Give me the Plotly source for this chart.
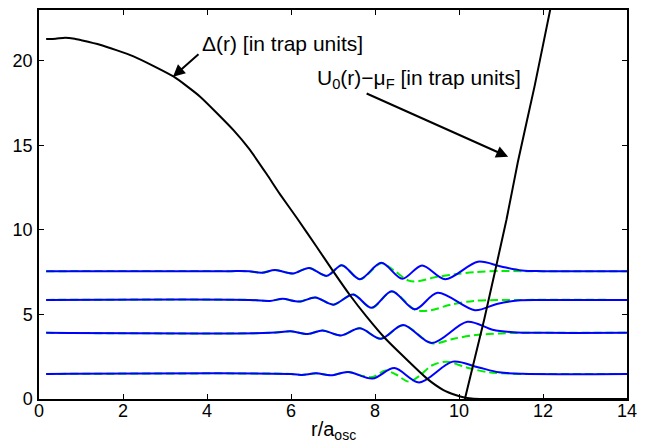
import plotly.graph_objects as go

# ---- data ----
delta_r = [0.17, 0.4, 0.62, 0.85, 1.0, 1.45, 2.25, 3.2, 3.83, 4.63, 5.0, 5.42, 5.74, 6.14, 6.61, 7.01,
           7.40, 7.80, 8.24, 8.60, 9.23, 9.63, 9.9, 10.1, 10.3, 10.6, 14.0]
delta_v = [21.28, 21.3, 21.36, 21.3, 21.22, 20.95, 20.26, 19.07, 17.89, 15.9, 14.8, 13.3, 12.1, 10.7, 9.0, 7.53,
           6.15, 4.87, 3.59, 2.70, 1.22, 0.53, 0.25, 0.1, 0.03, 0.0, 0.0]

u_r = [10.14, 10.6, 11.13, 11.4, 11.8, 12.17, 12.3]
u_v = [0.0, 4.7, 10.6, 14.0, 18.5, 23.0, 24.6]

blue1_r = [0.17, 4.5, 5.0, 5.3, 5.62, 6.05, 6.43, 6.85, 7.21, 7.64, 8.15, 8.65, 9.12, 9.67, 10.45, 11.0, 11.5, 12.0, 14.0]
blue1_v = [7.56, 7.56, 7.55, 7.46, 7.62, 7.42, 7.75, 7.28, 7.91, 7.08, 8.05, 7.11, 7.90, 7.08, 8.12, 7.83, 7.60, 7.56, 7.56]
green1_r = [0.17, 4.5, 5.0, 5.3, 5.62, 6.05, 6.43, 6.85, 7.21, 7.64, 8.15, 8.45, 8.8, 9.05, 9.4, 9.9, 10.4, 11.0, 11.5, 14.0]
green1_v = [7.56, 7.56, 7.55, 7.46, 7.62, 7.42, 7.75, 7.28, 7.91, 7.08, 8.03, 7.60, 7.00, 6.97, 7.18, 7.37, 7.50, 7.57, 7.56, 7.56]

blue2_r = [0.17, 5.0, 5.5, 5.8, 6.2, 6.58, 7.01, 7.48, 7.92, 8.40, 8.95, 9.49, 10.38, 10.9, 11.4, 12.0, 14.0]
blue2_v = [5.86, 5.86, 5.80, 5.92, 5.76, 6.00, 5.58, 6.18, 5.39, 6.37, 5.30, 6.28, 5.25, 5.62, 5.83, 5.86, 5.86]
green2_r = [0.17, 5.0, 5.5, 5.8, 6.2, 6.58, 7.01, 7.48, 7.92, 8.40, 8.95, 9.3, 9.8, 10.35, 10.9, 11.5, 14.0]
green2_v = [5.86, 5.86, 5.80, 5.92, 5.76, 6.00, 5.58, 6.18, 5.39, 6.35, 5.28, 5.23, 5.58, 5.80, 5.85, 5.86, 5.86]

blue3_r = [0.17, 5.5, 6.0, 6.4, 6.75, 7.19, 7.64, 8.14, 8.67, 9.35, 10.2, 10.8, 11.3, 12.0, 14.0]
blue3_v = [3.91, 3.91, 4.00, 3.84, 4.05, 3.76, 4.18, 3.56, 4.38, 3.31, 4.57, 4.10, 3.95, 3.91, 3.91]
green3_r = [0.17, 5.5, 6.0, 6.4, 6.75, 7.19, 7.64, 8.14, 8.67, 9.35, 9.9, 10.4, 11.0, 11.5, 14.0]
green3_v = [3.91, 3.91, 4.00, 3.84, 4.05, 3.76, 4.18, 3.56, 4.36, 3.30, 3.58, 3.78, 3.88, 3.91, 3.91]

blue4_r = [0.17, 6.0, 6.25, 6.6, 6.95, 7.36, 7.94, 8.46, 9.05, 9.85, 10.45, 10.95, 11.5, 14.0]
blue4_v = [1.48, 1.48, 1.42, 1.52, 1.40, 1.60, 1.21, 1.83, 0.98, 2.21, 1.88, 1.58, 1.49, 1.48]
green4_r = [0.17, 6.0, 6.25, 6.6, 6.95, 7.36, 7.68, 7.94, 8.25, 8.5, 8.8, 9.05, 9.35, 9.7, 10.2, 10.7, 11.2, 11.7, 14.0]
green4_v = [1.48, 1.48, 1.42, 1.52, 1.40, 1.60, 1.38, 1.30, 1.68, 1.45, 1.03, 1.35, 1.98, 2.20, 1.85, 1.58, 1.50, 1.48, 1.48]

x_ticks = [0, 2, 4, 6, 8, 10, 12, 14]
y_ticks = [0, 5, 10, 15, 20]

FONT = "Liberation Sans, Arial, sans-serif"
BLUE = "#0000ff"
GREEN = "#00ee00"

fig = go.Figure()

greens = [(green1_r, green1_v), (green2_r, green2_v), (green3_r, green3_v), (green4_r, green4_v)]
blues = [(blue1_r, blue1_v), (blue2_r, blue2_v), (blue3_r, blue3_v), (blue4_r, blue4_v)]

for r, v in greens:
    fig.add_trace(go.Scatter(x=r, y=v, mode="lines",
                             line=dict(color=GREEN, width=2, dash="8px,4px", shape="spline", smoothing=0.9),
                             showlegend=False, hoverinfo="skip"))
for r, v in blues:
    fig.add_trace(go.Scatter(x=r, y=v, mode="lines",
                             line=dict(color=BLUE, width=2, shape="spline", smoothing=0.9),
                             showlegend=False, hoverinfo="skip"))

fig.add_trace(go.Scatter(x=delta_r, y=delta_v, mode="lines",
                         line=dict(color="black", width=2, shape="spline", smoothing=0.5),
                         showlegend=False, hoverinfo="skip"))
fig.add_trace(go.Scatter(x=u_r, y=u_v, mode="lines",
                         line=dict(color="black", width=2, shape="spline", smoothing=0.4),
                         showlegend=False, hoverinfo="skip"))

axis_common = dict(showgrid=False, zeroline=False, showline=True, linecolor="black", linewidth=1.5,
                   mirror="ticks", ticks="inside", ticklen=5, tickwidth=1, tickcolor="black",
                   automargin=False,
                   tickfont=dict(family=FONT, size=18, color="black"))

fig.update_xaxes(range=[0, 14], tickvals=x_ticks, ticktext=[str(t) for t in x_ticks],
                 ticklabelstandoff=-5, **axis_common)
fig.update_yaxes(range=[0, 23], tickvals=y_ticks, ticktext=[str(t) for t in y_ticks],
                 ticklabelstandoff=1, **axis_common)

ANN_SIZE = 21
annotations = [
    dict(x=(200 - 39) / 588, y=(399 - 44) / 389, xref="paper", yref="paper",
         text="Δ(r) [in trap units]", showarrow=False, xanchor="left", yanchor="middle",
         font=dict(family=FONT, size=ANN_SIZE, color="black")),
    dict(x=(315 - 39) / 588, y=(399 - 79) / 389, xref="paper", yref="paper",
         text="U<sub>0</sub>(r)−μ<sub>F</sub> [in trap units]", showarrow=False,
         xanchor="left", yanchor="middle",
         font=dict(family=FONT, size=ANN_SIZE, color="black")),
    dict(x=3.19, y=19.05, xref="x", yref="y", text="", showarrow=True,
         ax=27, ay=-24, arrowhead=2, arrowsize=1.2, arrowwidth=2, arrowcolor="black", standoff=0),
    dict(x=11.17, y=14.32, xref="x", yref="y", text="", showarrow=True,
         ax=-143, ay=-64, arrowhead=2, arrowsize=1.2, arrowwidth=2, arrowcolor="black", standoff=0),
    dict(x=(333 - 39) / 588, y=(399 - 430) / 389, xref="paper", yref="paper",
         text="r/a<sub>osc</sub>", showarrow=False, xanchor="center", yanchor="middle",
         font=dict(family=FONT, size=20, color="black")),
]

fig.update_layout(width=654, height=441,
                  margin=dict(l=39, r=27, t=10, b=42, pad=0),
                  paper_bgcolor="white", plot_bgcolor="white",
                  annotations=annotations, showlegend=False)

fig.write_html("out.html", config={"displayModeBar": False},
               post_script="document.body.style.margin='0px';document.body.style.overflow='hidden';")
